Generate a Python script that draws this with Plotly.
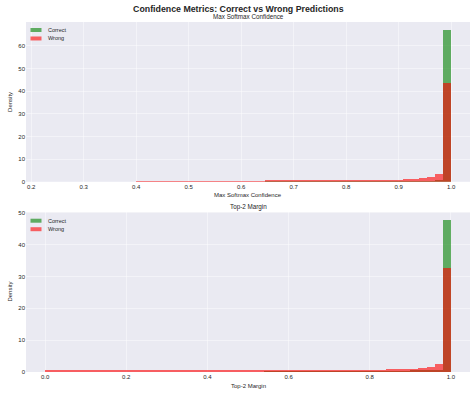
import plotly.graph_objects as go

# ---------------- data ----------------
n_bins = 50
# Panel 1: Max Softmax Confidence (shared bins 0.23 -> 1.0)
msc_lo, msc_hi = 0.23, 1.0
msc_correct = ([0.0] * 27 + [0.02] * 8 +
               [0.03, 0.03, 0.04, 0.04, 0.05, 0.05, 0.07, 0.08, 0.1, 0.12, 0.15, 0.2, 0.3, 0.5] +
               [67.0])
msc_wrong = ([0.0] * 11 + [0.1] * 6 + [0.25] * 10 +
             [0.35, 0.35, 0.4, 0.4, 0.45, 0.45, 0.5, 0.5, 0.55, 0.6, 0.6, 0.65, 0.7, 0.75,
              0.8, 0.9, 1.0, 1.1, 1.3, 1.6, 2.2, 3.3] +
             [43.6])
# Panel 2: Top-2 Margin (bins 0.0 -> 1.0)
t2_lo, t2_hi = 0.0, 1.0
t2_correct = ([0.0] * 27 + [0.02] * 7 +
              [0.03, 0.03, 0.04, 0.04, 0.05, 0.06, 0.07, 0.08, 0.1, 0.12, 0.15, 0.2, 0.25, 0.35, 0.5] +
              [47.6])
t2_wrong = ([0.2] * 27 + [0.3] * 7 +
            [0.35, 0.4, 0.4, 0.45, 0.5, 0.55, 0.6, 0.65, 0.7, 0.8, 0.85, 0.95, 1.1, 1.3, 2.4] +
            [32.4])

series_names = ["Correct", "Wrong"]
top_xticks = [0.2, 0.3, 0.4, 0.5, 0.6, 0.7, 0.8, 0.9, 1.0]
top_yticks = [0, 10, 20, 30, 40, 50, 60]
bot_xticks = [0.0, 0.2, 0.4, 0.6, 0.8, 1.0]
bot_yticks = [0, 10, 20, 30, 40, 50]

# ---------------- figure ----------------
FONT = "Liberation Sans, Arial, sans-serif"
TXT = "#262626"
COLORS = ["green", "red"]
W, Hfig = 471, 393
ML, MR, MT, MB = 26, 1, 22, 20.5
PW = W - ML - MR
H = Hfig - MT - MB


def edges(lo, hi, n):
    w = (hi - lo) / n
    return [lo + i * w for i in range(n)], w


def px(p):
    return (p - ML) / PW


def py(p):
    return (Hfig - MB - p) / H


fig = go.Figure()

for (lo, hi, corr, wrong, xa, ya) in [
    (msc_lo, msc_hi, msc_correct, msc_wrong, "x", "y"),
    (t2_lo, t2_hi, t2_correct, t2_wrong, "x2", "y2"),
]:
    left, w = edges(lo, hi, n_bins)
    for name, vals, col in zip(series_names, [corr, wrong], COLORS):
        fig.add_trace(go.Bar(x=left, y=vals, width=w, offset=0, name=name,
                             marker=dict(color=col, line=dict(width=0)), opacity=0.6,
                             xaxis=xa, yaxis=ya, showlegend=False))

axis_common = dict(showgrid=True, gridcolor="rgba(255,255,255,0.45)", gridwidth=0.8,
                   zeroline=False, showline=False, ticks="", automargin=False,
                   tickfont=dict(size=6, color=TXT, family=FONT))

top_dom = [(H - 160) / H, 1.0]
bot_dom = [0.0, 159.8 / H]

fig.update_layout(
    width=W, height=Hfig,
    margin=dict(l=ML, r=MR, t=MT, b=MB, pad=0, autoexpand=False),
    paper_bgcolor="white", plot_bgcolor="#EAEAF2",
    barmode="overlay", bargap=0, showlegend=False,
    font=dict(family=FONT, color=TXT, size=6),
    title=dict(text="<b>Confidence Metrics: Correct vs Wrong Predictions</b>",
               x=0.506, xanchor="center", y=1 - 8.5 / Hfig, yanchor="middle",
               font=dict(size=8.8, color=TXT, family=FONT)),
    xaxis=dict(domain=[0, 1], anchor="y", range=[0.19, 1.036], tickvals=top_xticks,
               ticktext=[f"{v:.1f}" for v in top_xticks], **axis_common),
    yaxis=dict(domain=top_dom, anchor="x", range=[0, 70.6], tickvals=top_yticks, **axis_common),
    xaxis2=dict(domain=[0, 1], anchor="y2", range=[-0.047, 1.047], tickvals=bot_xticks,
                ticktext=[f"{v:.1f}" for v in bot_xticks], **axis_common),
    yaxis2=dict(domain=bot_dom, anchor="x2", range=[0, 50.1], tickvals=bot_yticks, **axis_common),
)

annos = [
    dict(text="Max Softmax Confidence", x=0.5, y=py(16.5), size=6.3),
    dict(text="Top-2 Margin", x=0.5, y=py(207), size=6.3),
    dict(text="Max Softmax Confidence", x=0.5, y=py(195.5), size=6),
    dict(text="Top-2 Margin", x=0.5, y=py(386.5), size=6),
]
for a in annos:
    fig.add_annotation(text=a["text"], x=a["x"], y=a["y"], xref="paper", yref="paper",
                       xanchor="center", yanchor="middle", showarrow=False,
                       font=dict(size=a["size"], color=TXT, family=FONT))
for yc in (py(102), py(292)):
    fig.add_annotation(text="Density", x=px(10), y=yc, xref="paper", yref="paper",
                       xanchor="center", yanchor="middle", showarrow=False, textangle=-90,
                       font=dict(size=6, color=TXT, family=FONT))

# legends drawn as handles + text, one per panel
for y0 in (30, 221):
    for i, (name, col) in enumerate(zip(series_names, COLORS)):
        yc = y0 + i * 8.5
        fig.add_shape(type="rect", xref="paper", yref="paper",
                      x0=px(30.5), x1=px(41.5), y0=py(yc + 2), y1=py(yc - 2),
                      fillcolor=col, opacity=0.6, line=dict(width=0))
        fig.add_annotation(text=name, x=px(46), y=py(yc), xref="paper", yref="paper",
                           xanchor="left", yanchor="middle", showarrow=False,
                           font=dict(size=5.5, color=TXT, family=FONT))

fig.write_html("out.html", config={"displayModeBar": False},
               post_script="document.body.style.margin='0';document.body.style.overflow='hidden';")
